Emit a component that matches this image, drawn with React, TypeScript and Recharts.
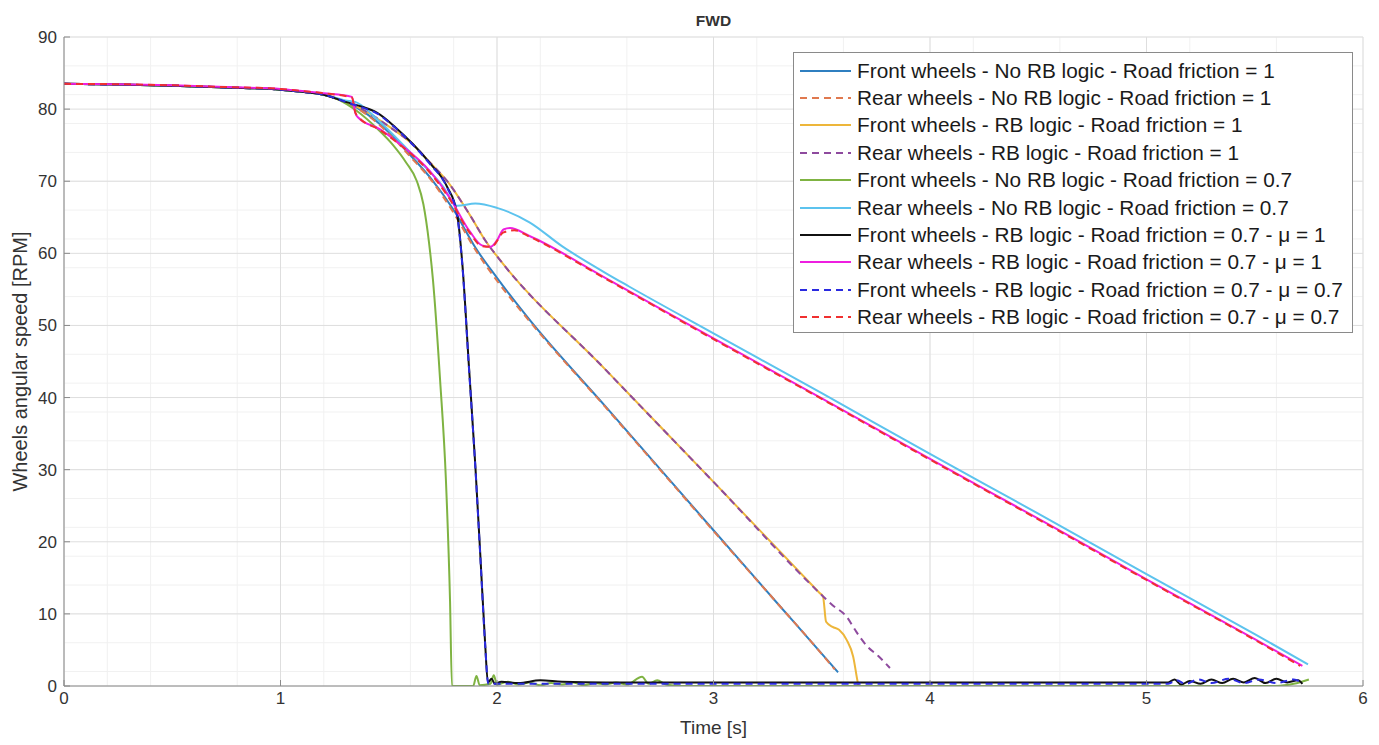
import React from 'react';
import { LineChart, Line, XAxis, YAxis, CartesianGrid, Label } from 'recharts';

// time [s], wheel speed [RPM]
const sharedStart: [number, number][] = [
  [0, 83.5], [0.25, 83.4], [0.5, 83.25], [0.75, 83.0], [1.0, 82.7], [1.1, 82.4], [1.2, 82.0],
];

const frontNoRb1: [number, number][] = [
  ...sharedStart,
  [1.3, 81.0], [1.4, 79.3], [1.5, 76.8], [1.6, 73.6], [1.7, 70.2], [1.8, 66.0], [1.9, 60.8],
  [2.0, 56.6], [2.15, 50.8], [2.5, 38.8], [3.0, 21.6], [3.3, 11.3], [3.45, 6.2], [3.575, 1.9],
];

const rearNoRb1: [number, number][] = [
  ...sharedStart,
  [1.3, 81.0], [1.4, 79.2], [1.5, 76.6], [1.6, 73.4], [1.7, 70.0], [1.8, 65.6], [1.9, 60.5],
  [2.0, 56.2], [2.15, 50.6], [2.5, 38.7], [3.0, 21.5], [3.3, 11.3], [3.45, 6.2], [3.56, 2.3],
];

const frontRb1: [number, number][] = [
  ...sharedStart,
  [1.3, 81.0], [1.4, 79.6], [1.5, 77.6], [1.6, 75.4], [1.69, 72.6], [1.77, 70.0], [1.875, 65.3],
  [1.95, 61.6], [2.0, 59.6], [2.5, 43.9], [3.0, 28.3], [3.49, 12.9], [3.506, 12.4], [3.52, 8.9],
  [3.55, 8.2], [3.58, 7.8], [3.615, 6.4], [3.645, 4.1], [3.667, 0.4], [3.67, 0],
];

const rearRb1: [number, number][] = [
  ...sharedStart,
  [1.3, 81.0], [1.4, 79.6], [1.5, 77.6], [1.6, 75.4], [1.69, 72.6], [1.77, 70.0], [1.875, 65.3],
  [1.95, 61.6], [2.0, 59.6], [2.5, 43.9], [3.0, 28.3], [3.49, 12.9], [3.55, 11.2], [3.615, 9.6],
  [3.66, 7.5], [3.71, 5.5], [3.76, 4.2], [3.815, 2.5],
];

const frontNoRb07: [number, number][] = [
  ...sharedStart,
  [1.27, 81.3], [1.35, 79.8], [1.45, 77.2], [1.52, 75.0], [1.58, 72.6], [1.63, 70.0], [1.66, 66.8],
  [1.686, 61.5], [1.704, 56.4], [1.737, 42.5], [1.764, 28.6], [1.783, 11.9], [1.792, 0], [1.89, 0],
  [1.905, 1.4], [1.92, 0.1], [1.97, 0.3], [1.985, 1.5], [2.0, 0.2], [2.05, 0.6], [2.1, 0.2],
  [2.15, 0.5], [2.2, 0.1], [2.25, 0.4], [2.3, 0.2], [2.35, 0.5], [2.4, 0.1], [2.45, 0.4],
  [2.5, 0.2], [2.55, 0.5], [2.6, 0.2], [2.67, 1.3], [2.7, 0.3], [2.74, 0.8], [2.78, 0.2],
  [2.85, 0], [5.6, 0], [5.68, 0.3], [5.75, 0.9],
];

const rearNoRb07: [number, number][] = [
  ...sharedStart,
  [1.3, 81.2], [1.345, 81.0], [1.45, 78.5], [1.6, 74.0], [1.75, 69.3], [1.815, 66.6], [1.9, 66.9],
  [2.0, 66.3], [2.15, 64.3], [2.3, 61.0], [2.5, 57.3], [2.61, 55.4], [3.0, 48.9], [3.5, 40.6],
  [4.0, 32.2], [4.5, 23.9], [5.0, 15.5], [5.5, 7.2], [5.746, 3.0],
];

const frontRb07Mu1: [number, number][] = [
  ...sharedStart,
  [1.3, 81.0], [1.38, 80.3], [1.445, 79.5], [1.53, 77.5], [1.61, 75.2], [1.69, 72.5], [1.77, 69.2],
  [1.815, 65.6], [1.84, 58.5], [1.87, 44.5], [1.9, 30.5], [1.925, 17], [1.945, 6], [1.958, 0.5],
  [1.975, 1.0], [1.99, 0.3], [2.02, 0.6], [2.1, 0.4], [2.2, 0.8], [2.3, 0.6], [2.5, 0.5],
  [3.0, 0.5], [4.0, 0.5], [5.1, 0.5], [5.13, 0.9], [5.16, 0.2], [5.2, 0.7], [5.25, 0.3],
  [5.3, 0.9], [5.35, 0.4], [5.4, 1.0], [5.45, 0.5], [5.5, 1.1], [5.55, 0.4], [5.6, 1.0],
  [5.65, 0.5], [5.7, 0.8], [5.72, 0.3],
];

const rearRb07Mu1: [number, number][] = [
  [0, 83.5], [0.25, 83.45], [0.5, 83.3], [0.75, 83.05], [1.0, 82.8], [1.1, 82.5], [1.2, 82.2],
  [1.33, 81.7], [1.345, 79.5], [1.36, 78.8], [1.46, 77.2], [1.55, 75.2], [1.69, 71.4],
  [1.78, 67.8], [1.875, 63.0], [1.93, 61.1], [1.97, 60.9], [2.0, 61.8], [2.03, 63.3],
  [2.06, 63.5], [2.15, 62.4], [2.5, 56.6], [3.0, 48.2], [3.5, 39.9], [4.0, 31.5], [4.5, 23.2],
  [5.0, 14.8], [5.5, 6.5], [5.72, 2.8],
];

const frontRb07Mu07: [number, number][] = [
  ...sharedStart,
  [1.3, 81.0], [1.38, 80.2], [1.445, 79.4], [1.53, 77.4], [1.61, 75.1], [1.69, 72.4], [1.77, 69.1],
  [1.815, 65.4], [1.84, 58.3], [1.87, 44.3], [1.9, 30.3], [1.925, 16.8], [1.945, 5.8],
  [1.96, 0.3], [2.2, 0.3], [3.0, 0.3], [4.0, 0.3], [5.1, 0.3], [5.14, 0.8], [5.18, 0.3],
  [5.24, 0.9], [5.3, 0.4], [5.38, 1.0], [5.45, 0.4], [5.52, 0.9], [5.6, 0.4], [5.68, 0.9],
  [5.72, 0.4],
];

const rearRb07Mu07: [number, number][] = [
  [0, 83.5], [0.25, 83.45], [0.5, 83.3], [0.75, 83.05], [1.0, 82.8], [1.1, 82.5], [1.2, 82.2],
  [1.33, 81.6], [1.345, 79.6], [1.36, 78.9], [1.46, 77.1], [1.55, 75.1], [1.69, 71.2],
  [1.78, 67.6], [1.875, 62.8], [1.93, 61.0], [1.975, 60.9], [2.03, 62.9], [2.08, 63.2],
  [2.15, 62.3], [2.5, 56.5], [3.0, 48.1], [3.5, 39.8], [4.0, 31.4], [4.5, 23.1], [5.0, 14.7],
  [5.5, 6.4], [5.71, 2.8],
];

const xTicks = [0, 1, 2, 3, 4, 5, 6];
const yTicks = [0, 10, 20, 30, 40, 50, 60, 70, 80, 90];
const xMinor = Array.from({ length: 31 }, (_, i) => i * 0.2);
const yMinor = Array.from({ length: 46 }, (_, i) => i * 2);

const SERIES = [
  { name: 'Front wheels - No RB logic - Road friction = 1', rows: frontNoRb1, color: '#2f7fc0', dash: undefined },
  { name: 'Rear wheels - No RB logic - Road friction = 1', rows: rearNoRb1, color: '#e0794f', dash: '7 5' },
  { name: 'Front wheels - RB logic - Road friction = 1', rows: frontRb1, color: '#edb63a', dash: undefined },
  { name: 'Rear wheels - RB logic - Road friction = 1', rows: rearRb1, color: '#8e4a9e', dash: '7 5' },
  { name: 'Front wheels - No RB logic - Road friction = 0.7', rows: frontNoRb07, color: '#7fb342', dash: undefined },
  { name: 'Rear wheels - No RB logic - Road friction = 0.7', rows: rearNoRb07, color: '#5cc3ee', dash: undefined },
  { name: 'Front wheels - RB logic - Road friction = 0.7 - μ = 1', rows: frontRb07Mu1, color: '#111111', dash: undefined },
  { name: 'Rear wheels - RB logic - Road friction = 0.7 - μ = 1', rows: rearRb07Mu1, color: '#ee1fe0', dash: undefined },
  { name: 'Front wheels - RB logic - Road friction = 0.7 - μ = 0.7', rows: frontRb07Mu07, color: '#2a2ae0', dash: '7 5' },
  { name: 'Rear wheels - RB logic - Road friction = 0.7 - μ = 0.7', rows: rearRb07Mu07, color: '#f03030', dash: '7 5' },
];

const FONT = '"Liberation Sans", Arial, Helvetica, sans-serif';
const AXIS = '#8a8a8a';
const TEXT = '#333333';

const LegendBox = () => (
  <div
    style={{
      position: 'absolute', left: 793, top: 52, width: 560, height: 281,
      border: `1px solid ${AXIS}`, background: '#fff', boxSizing: 'border-box',
      paddingTop: 4, fontFamily: FONT, fontSize: 20.8, color: '#1a1a1a',
    }}
  >
    {SERIES.map((s) => (
      <div key={s.name} style={{ height: 27.4, display: 'flex', alignItems: 'center' }}>
        <svg width={63} height={10} style={{ flex: 'none' }}>
          <line x1={6} x2={57} y1={5} y2={5} stroke={s.color} strokeWidth={2} strokeDasharray={s.dash} />
        </svg>
        <span style={{ whiteSpace: 'nowrap' }}>{s.name}</span>
      </div>
    ))}
  </div>
);

const tickStyle = { fill: TEXT, fontSize: 17, fontFamily: FONT };

export default function App() {
  return (
    <div style={{ position: 'absolute', left: 0, top: 0, width: 1379, height: 745, background: '#fff' }}>
      <div
        style={{
          position: 'absolute', left: 64, top: 12, width: 1299, textAlign: 'center',
          fontFamily: FONT, fontWeight: 'bold', fontSize: 15.5, color: TEXT,
        }}
      >
        FWD
      </div>
      <LineChart width={1379} height={745} margin={{ top: 37, right: 16, left: 0, bottom: 0 }}>
        <CartesianGrid stroke="#f1f1f1" verticalValues={xMinor} horizontalValues={yMinor} />
        <CartesianGrid stroke="#dedede" verticalValues={xTicks} horizontalValues={yTicks} />
        <XAxis
          dataKey="t" type="number" domain={[0, 6]} ticks={xTicks} height={59}
          stroke={AXIS} tickSize={-6} tickMargin={12} allowDataOverflow tick={tickStyle}
        >
          <Label value="Time [s]" position="insideBottom" offset={11} style={{ fill: TEXT, fontSize: 19, fontFamily: FONT }} />
        </XAxis>
        <XAxis
          xAxisId="top" dataKey="t" type="number" domain={[0, 6]} ticks={xTicks} orientation="top"
          height={0} stroke={AXIS} tickSize={-6} tickFormatter={() => ''}
        />
        <YAxis
          type="number" domain={[0, 90]} ticks={yTicks} width={64}
          stroke={AXIS} tickSize={-6} tickMargin={13} allowDataOverflow tick={tickStyle}
        >
          <Label
            value="Wheels angular speed [RPM]" angle={-90} position="insideLeft" offset={20}
            style={{ fill: TEXT, fontSize: 20, fontFamily: FONT, textAnchor: 'middle' }}
          />
        </YAxis>
        <YAxis
          yAxisId="right" orientation="right" type="number" domain={[0, 90]} ticks={yTicks}
          width={0} stroke={AXIS} tickSize={-6} tickFormatter={() => ''}
        />
        {SERIES.map((s) => (
          <Line
            key={s.name}
            data={s.rows.map(([t, v]) => ({ t, v }))}
            dataKey="v"
            type="monotone"
            stroke={s.color}
            strokeWidth={2}
            strokeDasharray={s.dash}
            dot={false}
            activeDot={false}
            isAnimationActive={false}
          />
        ))}
      </LineChart>
      <LegendBox />
    </div>
  );
}
